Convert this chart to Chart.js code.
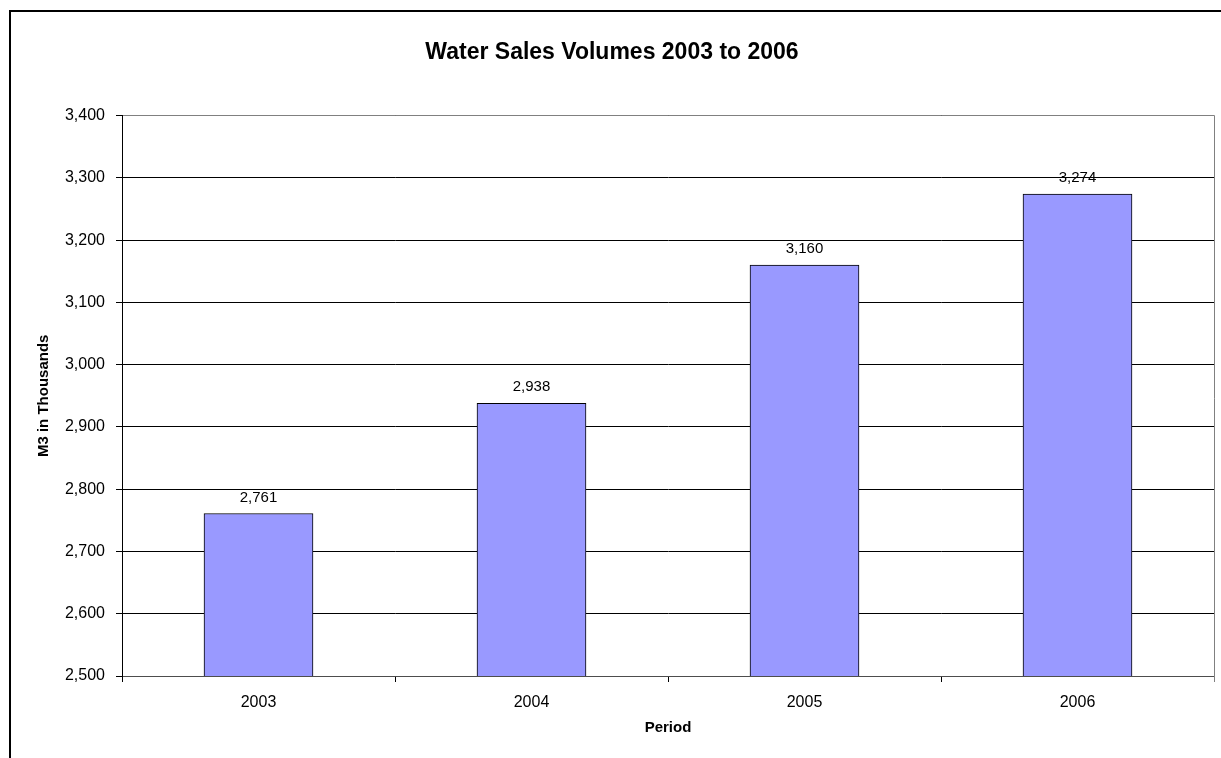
<!DOCTYPE html>
<html>
<head>
<meta charset="utf-8">
<title>Water Sales Volumes</title>
<style>
    html, body { margin: 0; padding: 0; background: #fff; overflow: hidden; }
    #salesChart { display: block; }
</style>
</head>
<body>
<canvas id="salesChart" width="1231" height="758"></canvas>

<script src="https://cdn.jsdelivr.net/npm/chart.js"></script>
<script>

// sales volumes, M3 in thousands
const years = ['2003', '2004', '2005', '2006']
const volumes = [2761, 2938, 3160, 3274]
const yMin = 2500
const yMax = 3400
const yStep = 100

const fontFamily = "Arial, 'Liberation Sans', sans-serif"

function fmt(v) {
    return Number(v).toLocaleString('en-US')
}

// black frame round the whole chart
const framePlugin = {
    id: 'frame',
    afterDraw(chart) {
        const ctx = chart.ctx
        ctx.save()
        ctx.strokeStyle = '#000'
        ctx.lineWidth = 2
        ctx.strokeRect(10, 11, chart.width + 20, chart.height + 20)
        ctx.restore()
    }
}

// grey border on the top and right of the plot area
const plotBorder = {
    id: 'plotBorder',
    afterDraw(chart) {
        const a = chart.chartArea
        const ctx = chart.ctx
        const top = Math.round(a.top - 0.5) + 0.5
        const right = Math.round(a.right - 0.5) + 0.5
        ctx.save()
        ctx.strokeStyle = '#808080'
        ctx.lineWidth = 1
        ctx.beginPath()
        ctx.moveTo(a.left + 1, top)
        ctx.lineTo(right, top)
        ctx.lineTo(right, a.bottom + 6)
        ctx.stroke()
        ctx.restore()
    }
}

// value written above each bar
const valueLabels = {
    id: 'valueLabels',
    afterDatasetsDraw(chart) {
        const ctx = chart.ctx
        const meta = chart.getDatasetMeta(0)
        ctx.save()
        ctx.font = '15px ' + fontFamily
        ctx.fillStyle = '#000'
        ctx.textAlign = 'center'
        ctx.textBaseline = 'middle'
        meta.data.forEach((bar, i) => {
            ctx.fillText(fmt(chart.data.datasets[0].data[i]), bar.x, bar.y - 16)
        })
        ctx.restore()
    }
}

const ctx = document.getElementById('salesChart')

new Chart(ctx, {
    type: 'bar',
    data: {
        labels: years,
        datasets: [{
            label: 'Sales',
            data: volumes,
            backgroundColor: '#9999ff',
            borderColor: '#000',
            borderWidth: 1,
            borderSkipped: false,
            barThickness: 109
        }]
    },
    options: {
        responsive: false,
        animation: false,
        layout: {
            padding: { left: 10, right: 17, top: 0, bottom: 0 }
        },
        plugins: {
            legend: { display: false },
            tooltip: { enabled: false },
            title: {
                display: true,
                text: 'Water Sales Volumes 2003 to 2006',
                color: '#000',
                font: { family: fontFamily, size: 23, weight: 'bold' },
                padding: { top: 39, bottom: 49 }
            }
        },
        scales: {
            x: {
                afterFit(scale) { scale.height = 82 },
                grid: {
                    offset: true,
                    drawOnChartArea: false,
                    drawTicks: true,
                    tickLength: 6,
                    color: '#000'
                },
                border: { color: '#4d4d4d', width: 1 },
                ticks: {
                    color: '#000',
                    padding: 11,
                    font: { family: fontFamily, size: 16 }
                },
                title: {
                    display: true,
                    text: 'Period',
                    color: '#000',
                    font: { family: fontFamily, size: 15, weight: 'bold' },
                    padding: { top: 0, bottom: 21 }
                }
            },
            y: {
                min: yMin,
                max: yMax,
                afterFit(scale) { scale.width = 112 },
                grid: {
                    color: '#000',
                    tickLength: 6
                },
                border: { color: '#000', width: 1 },
                ticks: {
                    stepSize: yStep,
                    color: '#000',
                    padding: 11,
                    font: { family: fontFamily, size: 16 },
                    callback: (v) => fmt(v)
                },
                title: {
                    display: true,
                    text: 'M3 in Thousands',
                    color: '#000',
                    font: { family: fontFamily, size: 15, weight: 'bold' },
                    padding: { top: 25, bottom: 0 }
                }
            }
        }
    },
    plugins: [valueLabels, plotBorder, framePlugin]
})
</script>
</body>
</html>
